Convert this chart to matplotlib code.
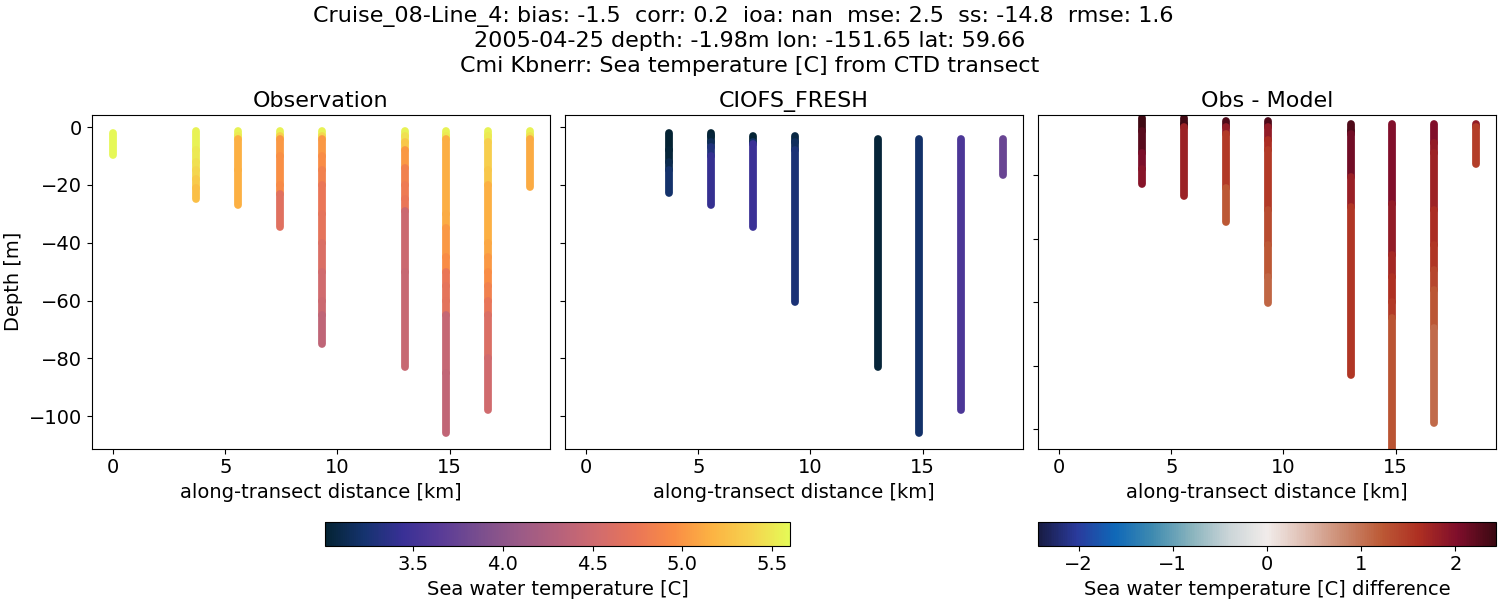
import matplotlib
matplotlib.use('Agg')
import matplotlib.pyplot as plt
import numpy as np
from matplotlib.cm import ScalarMappable
from matplotlib.collections import LineCollection
from matplotlib.colors import LinearSegmentedColormap, Normalize

# values, one list per station
station_km = [0.0, 3.7, 5.57, 7.42, 9.29, 12.99, 14.85, 16.71, 18.57]

obs_depth = [
    [-2, -9.8],
    [-1.3, -8, -12, -15, -18, -21, -24.7],
    [-1.3, -3, -4, -15, -26.9],
    [-1.3, -3, -4, -10, -20, -23, -34.6],
    [-1.3, -3, -4, -10, -15, -20, -30, -40, -50, -60, -65, -75],
    [-1.3, -3, -5, -8, -14, -20, -25, -29, -50, -83],
    [-1.3, -3, -4, -30, -35, -45, -50, -55, -60, -65, -85, -106],
    [-1.3, -3, -5, -15, -20, -40, -45, -50, -55, -60, -65, -80, -98],
    [-1.3, -3, -4, -20.8],
]
obs_temp = [
    [5.58, 5.58],
    [5.55, 5.5, 5.45, 5.4, 5.32, 5.25, 5.15],
    [5.55, 5.5, 5.15, 5.15, 5.12],
    [5.55, 5.35, 5.02, 4.97, 4.93, 4.65, 4.6],
    [5.55, 5.4, 5.02, 4.95, 4.85, 4.75, 4.7, 4.6, 4.52, 4.48, 4.38, 4.32],
    [5.55, 5.45, 5.3, 5.02, 4.85, 4.8, 4.75, 4.48, 4.45, 4.42],
    [5.55, 5.5, 5.14, 5.12, 5.02, 4.95, 4.75, 4.7, 4.68, 4.43, 4.4, 4.38],
    [5.55, 5.5, 5.35, 5.3, 5.15, 5.1, 5.02, 4.95, 4.85, 4.72, 4.6, 4.52, 4.5],
    [5.55, 5.45, 5.12, 5.05],
]

model_depth = [
    [],
    [-2, -8, -12, -15, -22.8],
    [-2, -3, -5, -7, -10, -26.9],
    [-3.1, -5, -6, -34.6],
    [-3.1, -5, -8, -60.4],
    [-4, -83],
    [-4, -106],
    [-4, -98],
    [-4, -16.6],
]
model_temp = [
    [],
    [3.02, 3.04, 3.12, 3.22, 3.28],
    [3.02, 3.05, 3.15, 3.3, 3.42, 3.45],
    [3.03, 3.2, 3.46, 3.46],
    [3.08, 3.17, 3.27, 3.33],
    [3.04, 3.04],
    [3.21, 3.21],
    [3.57, 3.57],
    [3.76, 3.76],
]

diff_depth = [
    [],
    [-2, -6, -13, -18, -22.8],
    [-2, -4, -5, -26.6],
    [-3.1, -5, -7, -24, -34.8],
    [-3.1, -5, -9, -12, -31, -42, -52, -60.3],
    [-4, -6, -7, -20.5, -30, -83],
    [-4, -29, -45, -52, -60, -65, -106],
    [-4, -10, -13, -31, -42, -50, -56, -68, -98],
    [-4, -5, -16.6],
]
diff_temp = [
    [],
    [2.4, 2.25, 2.05, 1.95, 1.9],
    [2.38, 2.38, 1.78, 1.78],
    [2.3, 1.85, 1.5, 1.22, 1.2],
    [2.3, 1.85, 1.65, 1.5, 1.33, 1.22, 1.12, 1.05],
    [2.3, 2.3, 2.1, 1.8, 1.55, 1.5],
    [2.0, 1.85, 1.7, 1.6, 1.5, 1.27, 1.25],
    [2.0, 1.85, 1.75, 1.65, 1.55, 1.4, 1.25, 1.08, 1.05],
    [1.85, 1.48, 1.48],
]

thermal_anchors = ['#042333', '#15336f', '#393096', '#5a3c97', '#7a4e8e', '#9a5a87',
                   '#b5617c', '#d06b6e', '#e97558', '#f98c45', '#fcb343', '#f6d24e', '#e5fa57']
balance_anchors = ['#181c43', '#2a3a9c', '#0f68b8', '#3f8bb0', '#88b3bd', '#cbd5d8', '#f1ecea',
                   '#dfbdb1', '#cb8a70', '#bc5a36', '#ae2f22', '#7f0e2b', '#3c0912']


def add_columns(ax, depths, values, cmap, norm):
    for km, dep, val in zip(station_km, depths, values):
        if not dep:
            continue
        segs = [[(km, dep[i]), (km, dep[i + 1])] for i in range(len(dep) - 1)]
        lc = LineCollection(segs, cmap=cmap, norm=norm, linewidths=5.6, capstyle='round')
        lc.set_array(np.array(val[:len(segs)]))
        ax.add_collection(lc)


def pixel_axes(fig, left, right, top, bottom):
    return fig.add_axes([left / 1500, 1 - bottom / 600, (right - left) / 1500, (bottom - top) / 600])


def main():
    plt.rcParams['font.size'] = 14
    fig = plt.figure(figsize=(15, 6), dpi=100)

    thermal = LinearSegmentedColormap.from_list('thermal', thermal_anchors)
    balance = LinearSegmentedColormap.from_list('balance', balance_anchors)
    temp_norm = Normalize(3.01, 5.6)
    diff_norm = Normalize(-2.43, 2.43)

    ax1 = pixel_axes(fig, 92, 550, 115, 448.5)
    ax2 = pixel_axes(fig, 565, 1023, 115, 448.5)
    ax3 = pixel_axes(fig, 1038, 1496, 115, 448.5)

    add_columns(ax1, obs_depth, obs_temp, thermal, temp_norm)
    add_columns(ax2, model_depth, model_temp, thermal, temp_norm)
    add_columns(ax3, diff_depth, diff_temp, balance, diff_norm)

    for ax in (ax1, ax2, ax3):
        ax.set_xlim(-0.95, 19.48)
        ax.set_xticks([0, 5, 10, 15])
        ax.set_xlabel('along-transect distance [km]')
    for ax in (ax1, ax2):
        ax.set_ylim(-111.2, 4.2)
        ax.set_yticks([0, -20, -40, -60, -80, -100])
    ax3.set_ylim(-106, -1.1)
    ax3.set_yticks([-20, -40, -60, -80, -100])
    ax2.tick_params(labelleft=False)
    ax3.tick_params(labelleft=False)

    ax1.set_ylabel('Depth [m]')
    ax1.set_title('Observation', fontsize=16)
    ax2.set_title('CIOFS_FRESH', fontsize=16)
    ax3.set_title('Obs - Model', fontsize=16)

    fig.suptitle('Cruise_08-Line_4: bias: -1.5  corr: 0.2  ioa: nan  mse: 2.5  ss: -14.8  rmse: 1.6  \n'
                 '2005-04-25 depth: -1.98m lon: -151.65 lat: 59.66\n'
                 'Cmi Kbnerr: Sea temperature [C] from CTD transect', fontsize=16, y=0.99, linespacing=1.27)

    cax1 = pixel_axes(fig, 325, 790, 522, 545.5)
    cb1 = fig.colorbar(ScalarMappable(temp_norm, thermal), cax=cax1, orientation='horizontal')
    cb1.set_ticks([3.5, 4.0, 4.5, 5.0, 5.5])
    cb1.set_label('Sea water temperature [C]')

    cax2 = pixel_axes(fig, 1038, 1496, 522, 545.5)
    cb2 = fig.colorbar(ScalarMappable(diff_norm, balance), cax=cax2, orientation='horizontal')
    cb2.set_ticks([-2, -1, 0, 1, 2])
    cb2.set_label('Sea water temperature [C] difference')

    fig.savefig('out.png', dpi=100)


if __name__ == "__main__":
    main()
